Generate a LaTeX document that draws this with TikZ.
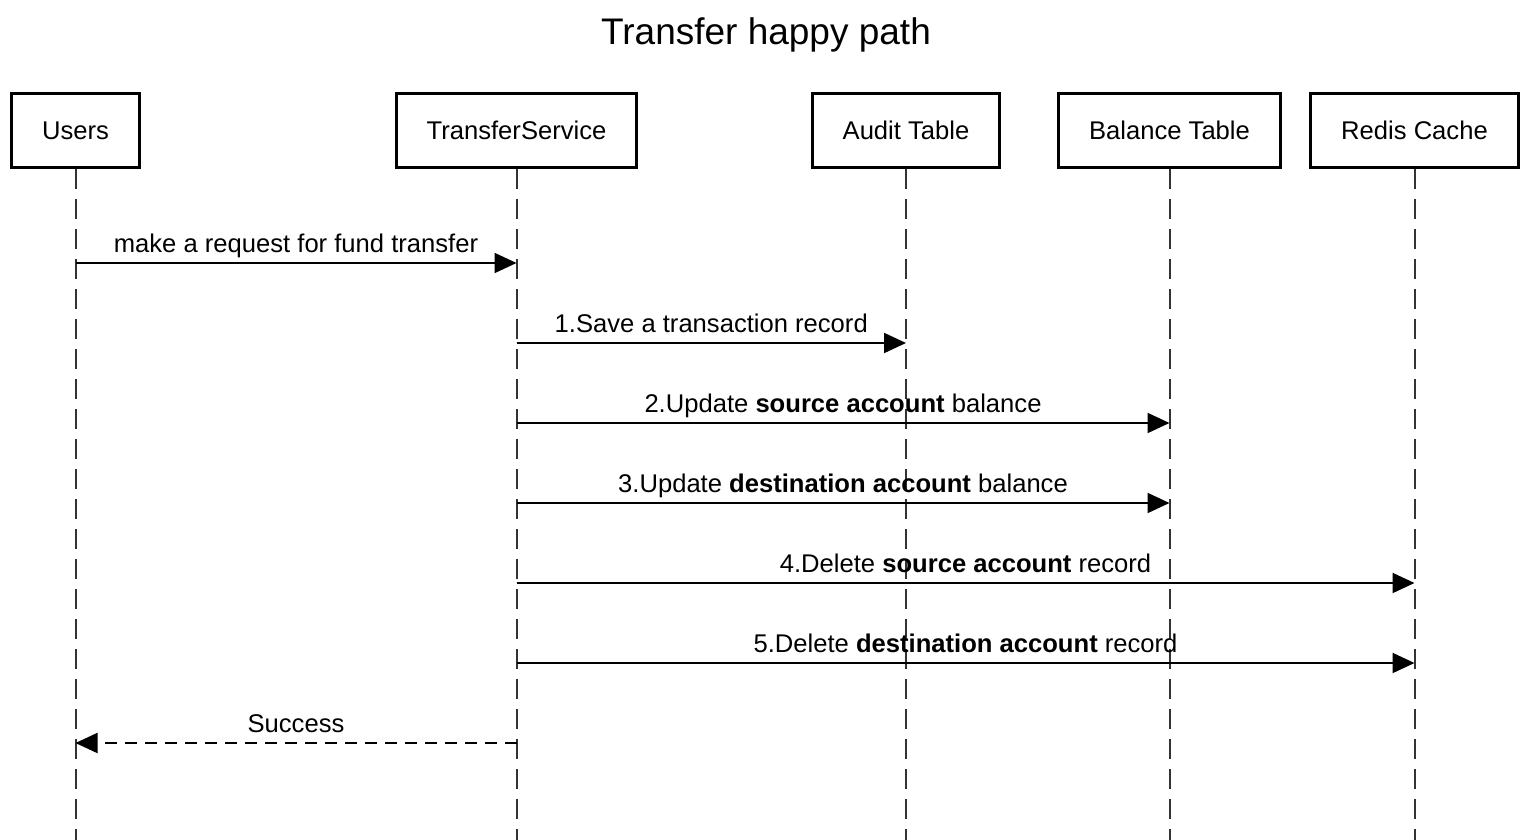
\documentclass[tikz,border=0pt]{standalone}
\usepackage{fontspec}
\setmainfont{Liberation Sans}
\usetikzlibrary{arrows.meta}

\begin{document}
\begin{tikzpicture}[x=1pt,y=-1pt,
  actor/.style={draw, line width=3.5pt, minimum height=74pt, inner sep=0pt,
    text height=18pt, text depth=0pt, font=\fontsize{25.6}{30}\selectfont},
  life/.style={draw=black!80, line width=2pt, dash pattern=on 20pt off 10pt},
  msg/.style={line width=2pt, -{Triangle[length=22pt,width=20pt]}},
  reply/.style={msg, dash pattern=on 12pt off 8pt},
  lbl/.style={midway, anchor=base, yshift=11pt, inner sep=0pt,
    font=\fontsize{25.6}{30}\selectfont}]
\useasboundingbox (0,0) rectangle (1534,840);

\node[font=\fontsize{37}{42}\selectfont, anchor=base] (title) at (766,45) {Transfer happy path};

% participants
\node[actor, minimum width=128pt] (users) at (75.5,130.5) {Users};
\node[actor, minimum width=240pt] (svc) at (516.5,130.5) {TransferService};
\node[actor, minimum width=187pt] (audit) at (906,130.5) {Audit Table};
\node[actor, minimum width=222pt] (balance) at (1169.5,130.5) {Balance Table};
\node[actor, minimum width=208pt] (redis) at (1414.5,130.5) {Redis Cache};

\coordinate (bottom) at (0,840);
\foreach \n in {users,svc,audit,balance,redis}
  \draw[life] (\n.south) -- (\n.south |- bottom);

% message rows
\coordinate (m0) at (0,263);
\coordinate (m1) at (0,343);
\coordinate (m2) at (0,423);
\coordinate (m3) at (0,503);
\coordinate (m4) at (0,583);
\coordinate (m5) at (0,663);
\coordinate (m6) at (0,743);

\draw[msg] (users |- m0) -- (svc |- m0) node[lbl] {make a request for fund transfer};
\draw[msg] (svc |- m1) -- (audit |- m1) node[lbl] {1.Save a transaction record};
\draw[msg] (svc |- m2) -- (balance |- m2) node[lbl] {2.Update \textbf{source account} balance};
\draw[msg] (svc |- m3) -- (balance |- m3) node[lbl] {3.Update \textbf{destination account} balance};
\draw[msg] (svc |- m4) -- (redis |- m4) node[lbl] {4.Delete \textbf{source account} record};
\draw[msg] (svc |- m5) -- (redis |- m5) node[lbl] {5.Delete \textbf{destination account} record};
\draw[reply] (svc |- m6) -- (users |- m6) node[lbl] {Success};

\end{tikzpicture}
\end{document}
